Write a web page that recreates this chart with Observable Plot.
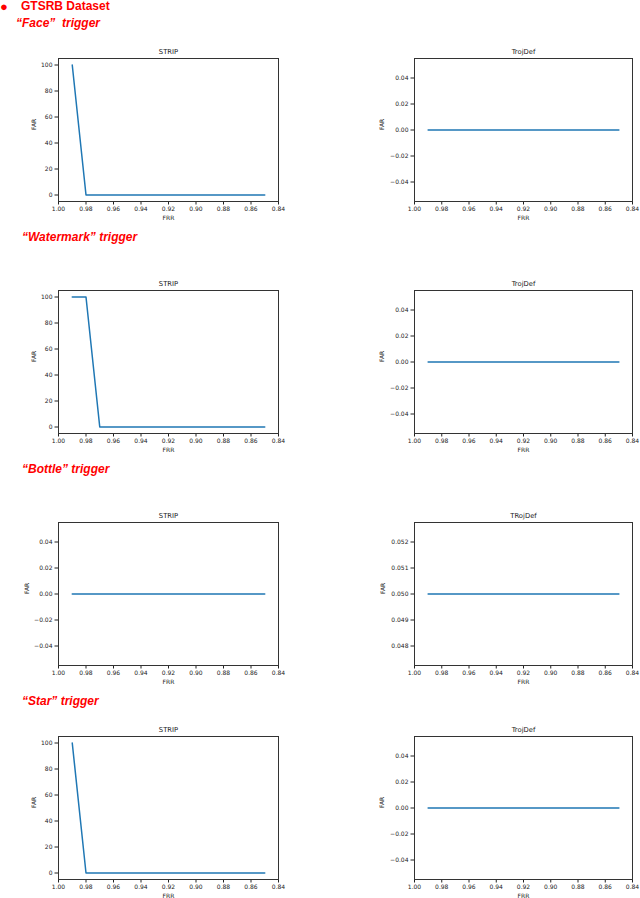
<!DOCTYPE html>
<html><head><meta charset="utf-8">
<script src="https://cdn.jsdelivr.net/npm/d3@7"></script>
<script src="https://cdn.jsdelivr.net/npm/@observablehq/plot@0.6"></script>
<style>
html,body{margin:0;padding:0;background:#fff;overflow:hidden}
#page{position:relative;width:640px;height:898px}
.h{position:absolute;color:#f00;font:bold 12px/1 "Liberation Sans",Arial,sans-serif;white-space:pre;margin:0}
.i{font-style:italic}
.p{position:absolute}
.p svg{overflow:visible}
</style></head><body><div id="page">
<div class="h" style="left:0px;top:0px;font-size:13px">●</div>
<div class="h" style="left:21px;top:0px">GTSRB Dataset</div>
<div class="h i" style="left:16px;top:17px">“Face”  trigger</div>
<div class="h i" style="left:22px;top:231px">“Watermark” trigger</div>
<div class="h i" style="left:22px;top:463px">“Bottle” trigger</div>
<div class="h i" style="left:22px;top:695px">“Star” trigger</div>
<div class="p" id="p1" style="left:0;top:42px"></div>
<div class="p" id="p2" style="left:356px;top:42px"></div>
<div class="p" id="p3" style="left:0;top:274px"></div>
<div class="p" id="p4" style="left:356px;top:274px"></div>
<div class="p" id="p5" style="left:0;top:506px"></div>
<div class="p" id="p6" style="left:356px;top:506px"></div>
<div class="p" id="p7" style="left:0;top:720px"></div>
<div class="p" id="p8" style="left:356px;top:720px"></div>
</div>
<script>
const frr = [0.99, 0.98, 0.97, 0.96, 0.95, 0.94, 0.93, 0.92, 0.91, 0.90, 0.89, 0.88, 0.87, 0.86, 0.85];
const farStripFace = [100, 0, 0, 0, 0, 0, 0, 0, 0, 0, 0, 0, 0, 0, 0];
const farTrojDefFace = [0, 0, 0, 0, 0, 0, 0, 0, 0, 0, 0, 0, 0, 0, 0];
const farStripWatermark = [100, 100, 0, 0, 0, 0, 0, 0, 0, 0, 0, 0, 0, 0, 0];
const farTrojDefWatermark = [0, 0, 0, 0, 0, 0, 0, 0, 0, 0, 0, 0, 0, 0, 0];
const farStripBottle = [0, 0, 0, 0, 0, 0, 0, 0, 0, 0, 0, 0, 0, 0, 0];
const farTrojDefBottle = [0.05, 0.05, 0.05, 0.05, 0.05, 0.05, 0.05, 0.05, 0.05, 0.05, 0.05, 0.05, 0.05, 0.05, 0.05];
const farStripStar = [100, 0, 0, 0, 0, 0, 0, 0, 0, 0, 0, 0, 0, 0, 0];
const farTrojDefStar = [0, 0, 0, 0, 0, 0, 0, 0, 0, 0, 0, 0, 0, 0, 0];

const frrTicks = [1.00, 0.98, 0.96, 0.94, 0.92, 0.90, 0.88, 0.86, 0.84];
const farTicksPct = [0, 20, 40, 60, 80, 100];
const farTicksSmall = [-0.04, -0.02, 0, 0.02, 0.04];
const farTicksBottle = [0.048, 0.049, 0.050, 0.051, 0.052];

const xDomain = [1.00, 0.84];
const yDomainPct = [-5, 105];
const yDomainSmall = [-0.055, 0.055];
const yDomainBottle = [0.04725, 0.05275];

const titles = ["STRIP", "TrojDef", "STRIP", "TrojDef", "STRIP", "TRojDef", "STRIP", "TrojDef"];

function panel(title, far, yDomain, yTicks, yFormat, farDx, right) {
  const data = frr.map((x, i) => ({frr: x, far: far[i]}));
  const W = right ? 284 : 300;
  const fw = right ? 218 : 220;
  return Plot.plot({
    width: W, height: 183,
    marginLeft: 58, marginRight: W - 58 - fw, marginTop: 16, marginBottom: 24,
    style: {fontFamily: '"DejaVu Sans", sans-serif', fontSize: "6px", color: "#222", background: "transparent", overflow: "visible"},
    x: {domain: xDomain, ticks: frrTicks, tickFormat: ".2f", tickSize: 3.5, tickPadding: 2, label: null},
    y: {domain: yDomain, ticks: yTicks, tickFormat: yFormat, tickSize: 3.5, tickPadding: 2.5, label: null},
    marks: [
      Plot.line(data, {x: "frr", y: "far", stroke: "#1f77b4", strokeWidth: 1.5}),
      Plot.frame({stroke: "#333", strokeWidth: 1}),
      Plot.text([title], {text: d => d, frameAnchor: "top", dy: -7, lineAnchor: "middle", fontSize: 6.8, fill: "#222"}),
      Plot.text(["FRR"], {text: d => d, frameAnchor: "bottom", dy: 17, lineAnchor: "middle", fill: "#222"}),
      Plot.text(["FAR"], {text: d => d, frameAnchor: "left", dx: -farDx, rotate: -90, lineAnchor: "middle", fill: "#222"})
    ]
  });
}

const specs = [
  [farStripFace, yDomainPct, farTicksPct, "d", 24, false],
  [farTrojDefFace, yDomainSmall, farTicksSmall, ".2f", 32, true],
  [farStripWatermark, yDomainPct, farTicksPct, "d", 24, false],
  [farTrojDefWatermark, yDomainSmall, farTicksSmall, ".2f", 32, true],
  [farStripBottle, yDomainSmall, farTicksSmall, ".2f", 31, false],
  [farTrojDefBottle, yDomainBottle, farTicksBottle, ".3f", 31, true],
  [farStripStar, yDomainPct, farTicksPct, "d", 24, false],
  [farTrojDefStar, yDomainSmall, farTicksSmall, ".2f", 32, true]
];
specs.forEach((s, i) => {
  document.getElementById("p" + (i + 1)).appendChild(panel(titles[i], ...s));
});
</script>
</body></html>
